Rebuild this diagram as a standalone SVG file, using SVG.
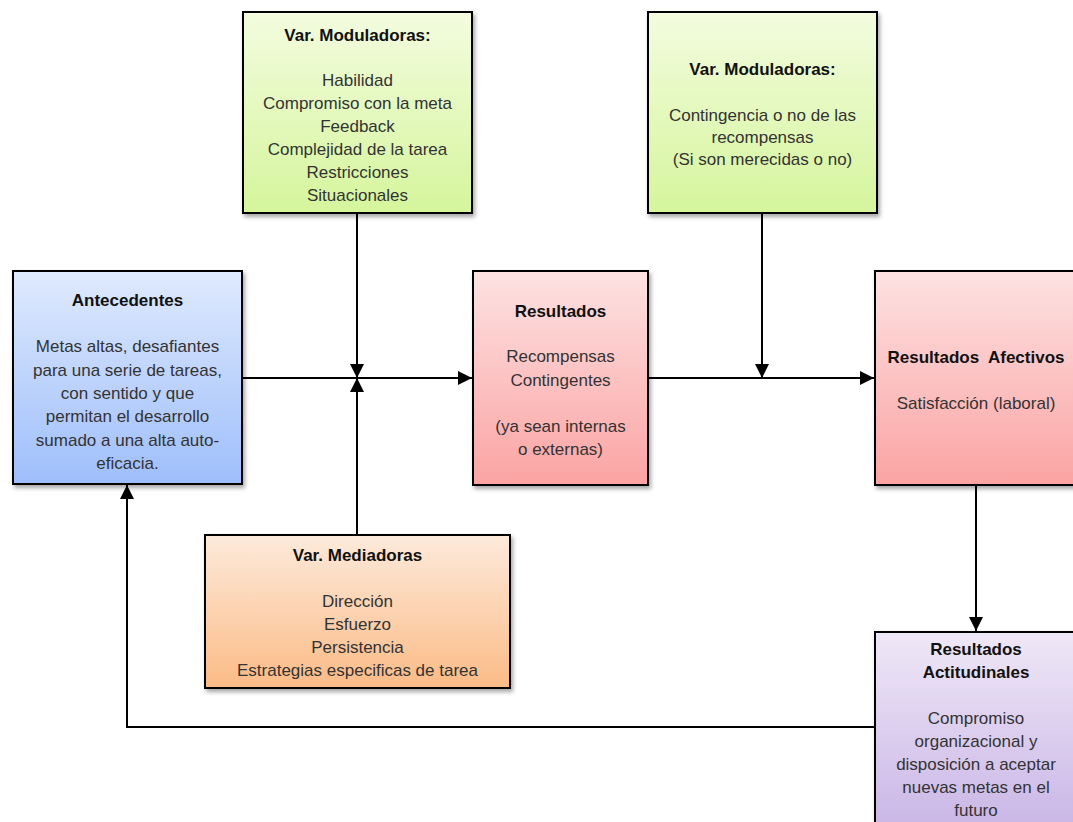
<svg xmlns="http://www.w3.org/2000/svg" width="1073" height="822" viewBox="0 0 1073 822">
<style>
.box{stroke:#000;stroke-width:2;filter:url(#sh)}
.t{font-family:"Liberation Sans",Arial,sans-serif;font-size:17px;text-anchor:middle;fill:#333}
.b{font-weight:bold;fill:#111}
.c{stroke:#000;stroke-width:2;fill:none}
</style>
<defs>
<filter id="sh" x="-10%" y="-10%" width="120%" height="120%">
<feDropShadow dx="2" dy="3" stdDeviation="2" flood-color="#000" flood-opacity="0.35"/>
</filter>
<linearGradient id="gG" x1="0" y1="0" x2="0" y2="1"><stop offset="0" stop-color="#f3fcdf"/><stop offset="1" stop-color="#d5f59c"/></linearGradient>
<linearGradient id="gB" x1="0" y1="0" x2="0" y2="1"><stop offset="0" stop-color="#dfeafd"/><stop offset="1" stop-color="#9ebefb"/></linearGradient>
<linearGradient id="gR" x1="0" y1="0" x2="0" y2="1"><stop offset="0" stop-color="#fde2e2"/><stop offset="1" stop-color="#fba3a3"/></linearGradient>
<linearGradient id="gO" x1="0" y1="0" x2="0" y2="1"><stop offset="0" stop-color="#fdeadb"/><stop offset="1" stop-color="#fbbb86"/></linearGradient>
<linearGradient id="gP" x1="0" y1="0" x2="0" y2="1"><stop offset="0" stop-color="#efe8f7"/><stop offset="1" stop-color="#c9b5e6"/></linearGradient>
<marker id="ah" viewBox="0 0 14 14" refX="14" refY="7" markerWidth="14" markerHeight="14" markerUnits="userSpaceOnUse" orient="auto"><path d="M0,0 L14,7 L0,14 Z" fill="#000"/></marker>
</defs>

<g id="connectors">
<path class="c" d="M242,378 H472" marker-end="url(#ah)"/>
<path class="c" d="M357,213 V378" marker-end="url(#ah)"/>
<path class="c" d="M357,535 V378" marker-end="url(#ah)"/>
<path class="c" d="M648,378 H874" marker-end="url(#ah)"/>
<path class="c" d="M762,213 V378" marker-end="url(#ah)"/>
<path class="c" d="M976,485 V631" marker-end="url(#ah)"/>
<path class="c" d="M875,727 H127 V485" marker-end="url(#ah)"/>
</g>

<g id="mod1">
<rect class="box" x="243" y="12" width="229" height="201" fill="url(#gG)"/>
<text class="t b" x="357.5" y="41">Var. Moduladoras:</text>
<text class="t" x="357.5" y="86">Habilidad</text>
<text class="t" x="357.5" y="109">Compromiso con la meta</text>
<text class="t" x="357.5" y="132">Feedback</text>
<text class="t" x="357.5" y="155">Complejidad de la tarea</text>
<text class="t" x="357.5" y="178">Restricciones</text>
<text class="t" x="357.5" y="201">Situacionales</text>
</g>

<g id="mod2">
<rect class="box" x="648" y="12" width="229" height="201" fill="url(#gG)"/>
<text class="t b" x="762.5" y="75">Var. Moduladoras:</text>
<text class="t" x="762.5" y="121">Contingencia o no de las</text>
<text class="t" x="762.5" y="143">recompensas</text>
<text class="t" x="762.5" y="165">(Si son merecidas o no)</text>
</g>

<g id="antecedentes">
<rect class="box" x="13" y="271" width="229" height="213" fill="url(#gB)"/>
<text class="t b" x="127.5" y="306">Antecedentes</text>
<text class="t" x="127.5" y="352">Metas altas, desafiantes</text>
<text class="t" x="127.5" y="376">para una serie de tareas,</text>
<text class="t" x="127.5" y="399">con sentido y que</text>
<text class="t" x="127.5" y="422">permitan el desarrollo</text>
<text class="t" x="127.5" y="446">sumado a una alta auto-</text>
<text class="t" x="127.5" y="469">eficacia.</text>
</g>

<g id="resultados">
<rect class="box" x="473" y="271" width="175" height="214" fill="url(#gR)"/>
<text class="t b" x="560.5" y="317">Resultados</text>
<text class="t" x="560.5" y="362">Recompensas</text>
<text class="t" x="560.5" y="386">Contingentes</text>
<text class="t" x="560.5" y="432">(ya sean internas</text>
<text class="t" x="560.5" y="455">o externas)</text>
</g>

<g id="afectivos">
<rect class="box" x="875" y="271" width="202" height="214" fill="url(#gR)"/>
<text class="t b" x="976" y="363">Resultados&#160; Afectivos</text>
<text class="t" x="976" y="409">Satisfacción (laboral)</text>
</g>

<g id="mediadoras">
<rect class="box" x="205" y="535" width="305" height="153" fill="url(#gO)"/>
<text class="t b" x="357.5" y="561">Var. Mediadoras</text>
<text class="t" x="357.5" y="607">Dirección</text>
<text class="t" x="357.5" y="630">Esfuerzo</text>
<text class="t" x="357.5" y="653">Persistencia</text>
<text class="t" x="357.5" y="676">Estrategias especificas de tarea</text>
</g>

<g id="actitudinales">
<rect class="box" x="875" y="632" width="202" height="200" fill="url(#gP)"/>
<text class="t b" x="976" y="655">Resultados</text>
<text class="t b" x="976" y="678">Actitudinales</text>
<text class="t" x="976" y="724">Compromiso</text>
<text class="t" x="976" y="747">organizacional y</text>
<text class="t" x="976" y="770">disposición a aceptar</text>
<text class="t" x="976" y="793">nuevas metas en el</text>
<text class="t" x="976" y="816">futuro</text>
</g>
</svg>
